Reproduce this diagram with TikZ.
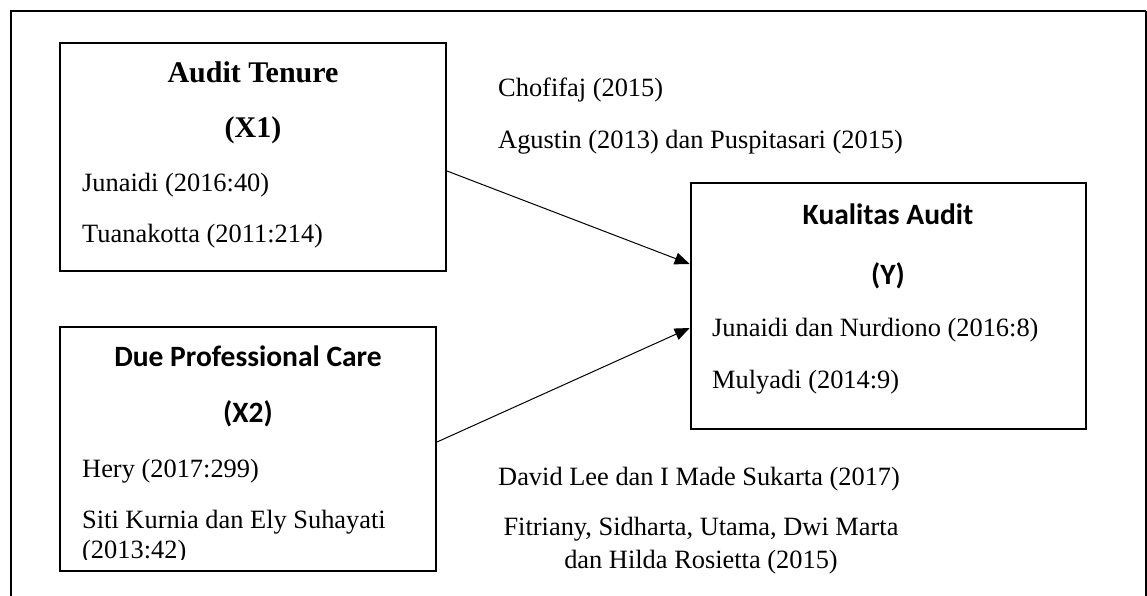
\documentclass[tikz,border=0pt]{standalone}
\usepackage{fontspec}
\setmainfont{Liberation Serif}
\newfontfamily\calfont{Carlito}
\usetikzlibrary{arrows.meta}
\begin{document}
\begin{tikzpicture}[x=1pt,y=-1pt,
  box/.style={draw,line width=2pt,rectangle,inner sep=0pt},
  ref/.style={inner sep=0pt,anchor=base west,font=\fontsize{26.4}{30}\selectfont},
  cref/.style={inner sep=0pt,anchor=base,font=\fontsize{26.4}{30}\selectfont},
  headt/.style={inner sep=0pt,anchor=base,font=\fontsize{30}{34}\selectfont\bfseries},
  headc/.style={inner sep=0pt,anchor=base,font=\fontsize{29.5}{33}\selectfont\calfont\bfseries},
  arr/.style={line width=1pt,-{Triangle[length=15pt,width=12pt]}}]
\useasboundingbox (0,0) rectangle (1147,596);
% outer frame
\draw[line width=2pt] (11,600) -- (11,11) -- (1146,11);
\draw[line width=1.2pt] (1146,11) -- (1146,600);
% boxes
\node[box,minimum width=386pt,minimum height=228pt] (x1) at (253,157) {};
\node[box,minimum width=376pt,minimum height=244pt] (x2) at (248,449) {};
\node[box,minimum width=395pt,minimum height=246pt] (y) at (888.2,305.5) {};
% X1 texts
\node[headt] (x1t) at (253,83) {Audit Tenure};
\node[headt] (x1v) at (253,138) {(X1)};
\node[ref] (x1a) at (82,191) {Junaidi (2016:40)};
\node[ref] (x1b) at (82,242) {Tuanakotta (2011:214)};
% X2 texts
\node[headc] (x2t) at (248,366) {Due Professional Care};
\node[headc] (x2v) at (248,422) {(X2)};
\node[ref] (x2a) at (82,477) {Hery (2017:299)};
\node[ref] (x2b) at (82,528) {Siti Kurnia dan Ely Suhayati};
\begin{scope}
\clip (60,530) rectangle (430,559.5);
\node[ref] (x2c) at (82,558) {(2013:42)};
\end{scope}
% Y texts
\node[headc] (yt) at (888,224) {Kualitas Audit};
\node[headc] (yv) at (888,284) {(Y)};
\node[ref] (ya) at (712,336) {Junaidi dan Nurdiono (2016:8)};
\node[ref] (yb) at (712,388) {Mulyadi (2014:9)};
% floating references
\node[ref] (r1) at (498,97) {Chofifaj (2015)};
\node[ref] (r2) at (498,149) {Agustin (2013) dan Puspitasari (2015)};
\node[ref] (r3) at (498,485) {David Lee dan I Made Sukarta (2017)};
\node[cref] (r4) at (701,535) {Fitriany, Sidharta, Utama, Dwi Marta};
\node[cref] (r5) at (701,568) {dan Hilda Rosietta (2015)};
% arrows
\draw[arr] (x1.east |- 0,171) -- (y.west |- 0,264);
\draw[arr] (x2.east |- 0,442) -- (y.west |- 0,328);
\end{tikzpicture}
\end{document}
